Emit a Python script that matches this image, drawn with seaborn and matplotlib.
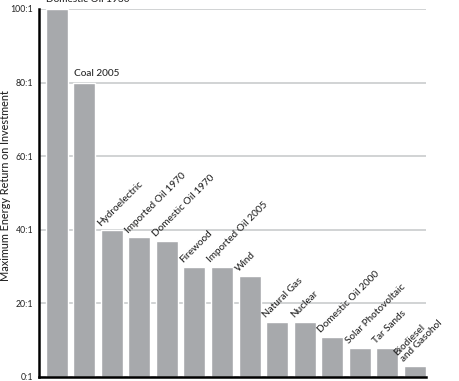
import numpy as np
import matplotlib
matplotlib.use("Agg")
import matplotlib.pyplot as plt
import pandas as pd
import seaborn as sns

sns.set_theme(style="white")
plt.rcParams['font.family'] = ['Lato', 'DejaVu Sans']

sources = ['Domestic Oil 1930', 'Coal 2005', 'Hydroelectric', 'Imported Oil 1970',
           'Domestic Oil 1970', 'Firewood', 'Imported Oil 2005', 'Wind',
           'Natural Gas', 'Nuclear', 'Domestic Oil 2000', 'Solar Photovoltaic',
           'Tar Sands', 'Biodiesel\nand Gasohol']
eroi = [100, 80, 40, 38, 37, 30, 30, 27.5, 15, 15, 11, 8, 8, 3]
yticks = [0, 20, 40, 60, 80, 100]
ytick_labels = ['0:1', '20:1', '40:1', '60:1', '80:1', '100:1']

df = pd.DataFrame({'source': sources, 'eroi': eroi})

fig = plt.figure(figsize=(4.6, 3.81), dpi=100)
ax = fig.add_axes([39 / 460, 4 / 381, (426 - 39) / 460, 368 / 381])

sns.barplot(data=df, x='source', y='eroi', color='#a7a9ac', saturation=1,
            width=0.8, ax=ax)

ax.set_ylim(0, 100)
ax.set_xlim(-0.64, 13.4)
ax.set_yticks(yticks)
ax.set_yticklabels(ytick_labels, fontsize=6.3, color='#222222')
ax.tick_params(axis='y', length=0, pad=4)
ax.set_xticks([])
ax.set_xlabel('')
ax.set_ylabel('Maximum Energy Return on Investment', fontsize=7.8,
              fontweight='medium')
ax.yaxis.set_label_coords(-0.072, 0.52)

ax.yaxis.grid(True, color='#d1d3d4', lw=1.4)
ax.set_axisbelow(True)
for side in ['top', 'right']:
    ax.spines[side].set_visible(False)
ax.spines['left'].set_linewidth(1.8)
ax.spines['bottom'].set_linewidth(1.8)
ax.spines['left'].set_color('black')
ax.spines['bottom'].set_color('black')

# labels above each bar
for i, bar in enumerate(ax.patches):
    x0 = bar.get_x()
    top = bar.get_height()
    if i < 2:
        ax.text(x0 + 0.03, top + 1.3, sources[i], fontsize=7.2, ha='left',
                va='bottom', fontweight='medium', clip_on=False)
    else:
        ax.text(x0 + 0.05, top + 0.6, sources[i], fontsize=7.2, ha='left',
                va='bottom', rotation=45, rotation_mode='anchor',
                fontweight='medium', linespacing=1.0, clip_on=False)

fig.savefig('out.png', dpi=100)
